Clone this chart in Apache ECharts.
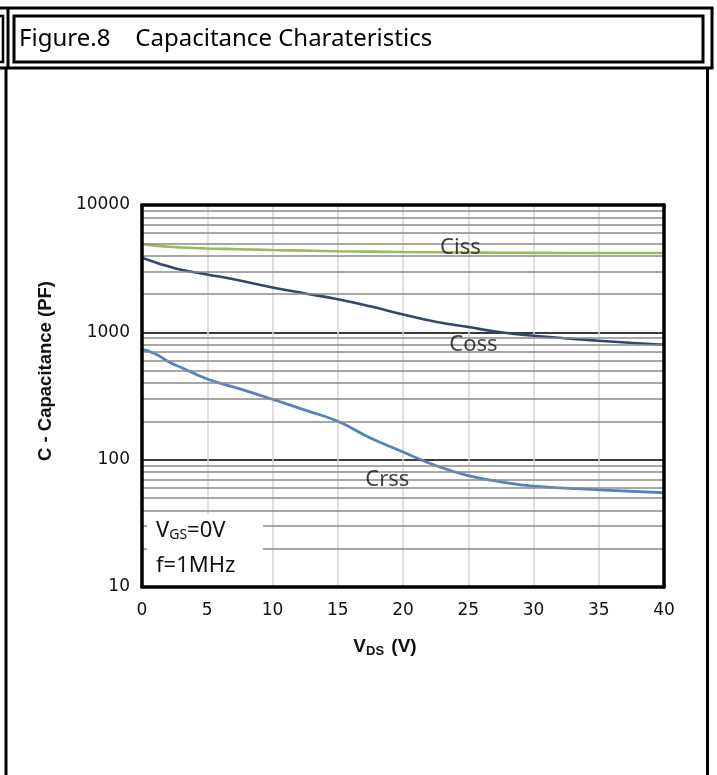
<!DOCTYPE html>
<html>
<head>
<meta charset="utf-8">
<script src="https://cdn.jsdelivr.net/npm/echarts@6/dist/echarts.min.js"></script>
<style>
  html, body { margin: 0; padding: 0; background: #fff; }
  #chart { width: 717px; height: 775px; }
</style>
</head>
<body>
<div id="chart"></div>
<script>
// Drain-source voltage sample points (V)
const vds  = [0, 1, 2, 3, 5, 7.5, 10, 12.5, 15, 17.5, 20, 22.5, 25, 27.5, 30, 35, 40];
// Capacitances (pF) at each VDS point
const ciss = [4950, 4800, 4700, 4640, 4560, 4490, 4430, 4380, 4330, 4300, 4270, 4250, 4230, 4220, 4210, 4200, 4200];
const coss = [3850, 3550, 3300, 3100, 2850, 2550, 2250, 2020, 1820, 1600, 1380, 1210, 1100, 1000, 940, 860, 800];
const crss = [735, 680, 590, 530, 430, 360, 298, 245, 200, 148, 115, 90, 75, 67, 62, 58, 55];

// Axis ranges and ticks
const xTicks = [0, 5, 10, 15, 20, 25, 30, 35, 40];
const yTicks = [10, 100, 1000, 10000];
// Intermediate log grid lines (2..9 of each decade)
const minorGrid = [20, 30, 40, 50, 60, 70, 80, 90,
                   200, 300, 400, 500, 600, 700, 800, 900,
                   2000, 3000, 4000, 5000, 6000, 7000, 8000, 9000];

// Curve names and where their captions sit (VDS, pF)
const curveNames = ['Ciss', 'Coss', 'Crss'];
const captionAt = [[24.4, 4650], [25.4, 805], [18.8, 70]];

const pair = (ys) => vds.map((x, i) => [x, ys[i]]);

const chart = echarts.init(document.getElementById('chart'));

const captionFont = '"Noto Sans", sans-serif';
const boldFont = '"Liberation Sans", Arial, sans-serif';
const tickFont = '"DejaVu Sans", Verdana, sans-serif';

// Plain black frame lines drawn as bare axes on each side of the plot
const frameAxis = (position) => ({
  type: 'value', position: position, min: 0, max: 1, z: 10,
  axisLine: { show: true, onZero: false, lineStyle: { color: '#000', width: 3.5 } },
  axisTick: { show: false }, axisLabel: { show: false }, splitLine: { show: false }
});

chart.setOption({
  backgroundColor: '#ffffff',
  animation: false,
  grid: { left: 142, top: 205, width: 522, height: 382, show: false },
  xAxis: [
    {
      type: 'value',
      min: xTicks[0], max: xTicks[xTicks.length - 1], interval: 5,
      axisLine: { show: false }, axisTick: { show: false },
      axisLabel: { fontSize: 17, color: '#111', fontFamily: tickFont, margin: 15 },
      splitLine: { show: true, lineStyle: { color: '#d6d6d6', width: 1.5 } },
      name: '{b|V}{s|DS}{b| (V)}',
      nameLocation: 'middle', nameGap: 48,
      nameTextStyle: {
        padding: [0, 36, 0, 0],
        rich: {
          b: { fontSize: 19, fontWeight: 'bold', fontFamily: boldFont, color: '#111', lineHeight: 24 },
          s: { fontSize: 13, fontWeight: 'bold', fontFamily: boldFont, color: '#111', lineHeight: 24, padding: [8, 2, 0, 0] }
        }
      }
    },
    frameAxis('top'),
    frameAxis('bottom')
  ],
  yAxis: [
    {
      type: 'log', logBase: 10,
      min: yTicks[0], max: yTicks[yTicks.length - 1],
      axisLine: { show: false }, axisTick: { show: false },
      axisLabel: { fontSize: 17, color: '#111', fontFamily: tickFont, margin: 12, formatter: (v) => String(v) },
      splitLine: { show: true, lineStyle: { color: '#3c3c3c', width: 2 } },
      name: 'C - Capacitance (PF)',
      nameLocation: 'middle', nameGap: 87,
      nameTextStyle: { fontSize: 18.5, fontWeight: 'bold', fontFamily: boldFont, color: '#111', padding: [0, 0, 0, 50] }
    },
    frameAxis('right'),
    frameAxis('left')
  ],
  series: [
    {
      // minor log grid
      type: 'line', data: [], z: 1, silent: true,
      markLine: {
        silent: true, symbol: ['none', 'none'], label: { show: false },
        lineStyle: { color: '#8a8a8a', width: 1.7, type: 'solid' },
        data: minorGrid.map(v => ({ yAxis: v }))
      }
    },
    {
      name: curveNames[0], type: 'line', data: pair(ciss), smooth: true, showSymbol: false, z: 4,
      lineStyle: { color: '#9bbb59', width: 2.6 }
    },
    {
      name: curveNames[1], type: 'line', data: pair(coss), smooth: true, showSymbol: false, z: 4,
      lineStyle: { color: '#34466a', width: 2.6 }
    },
    {
      name: curveNames[2], type: 'line', data: pair(crss), smooth: true, showSymbol: false, z: 4,
      lineStyle: { color: '#5283c0', width: 2.8 }
    },
    {
      // curve captions
      type: 'scatter', symbolSize: 0, z: 6, silent: true,
      data: captionAt.map((p, i) => [p[0], p[1], curveNames[i]]),
      label: {
        show: true, position: 'inside', formatter: (p) => p.value[2],
        fontSize: 22, color: '#111', fontFamily: captionFont
      }
    }
  ],
  graphic: [
    // neighbouring cell edge on the far left
    { type: 'rect', shape: { x: -10, y: 16, width: 13, height: 46 }, style: { fill: 'none', stroke: '#000', lineWidth: 2.5 } },
    // header frame
    { type: 'line', shape: { x1: 0, y1: 8, x2: 713.5, y2: 8 }, style: { stroke: '#000', lineWidth: 3 } },
    { type: 'line', shape: { x1: 8, y1: 8, x2: 8, y2: 68 }, style: { stroke: '#000', lineWidth: 3 } },
    { type: 'line', shape: { x1: 712, y1: 8, x2: 712, y2: 68 }, style: { stroke: '#000', lineWidth: 3 } },
    { type: 'line', shape: { x1: 0, y1: 68, x2: 713.5, y2: 68 }, style: { stroke: '#000', lineWidth: 3 } },
    { type: 'rect', shape: { x: 14, y: 16, width: 689, height: 46 }, style: { fill: 'none', stroke: '#000', lineWidth: 3 } },
    { type: 'text', x: 19, y: 39, style: { text: 'Figure.8    Capacitance Charateristics', font: '24px "Noto Sans", sans-serif', fill: '#000', verticalAlign: 'middle' } },
    // body frame
    { type: 'line', shape: { x1: 6, y1: 68, x2: 6, y2: 776 }, style: { stroke: '#000', lineWidth: 3 } },
    { type: 'line', shape: { x1: 707.5, y1: 68, x2: 707.5, y2: 776 }, style: { stroke: '#000', lineWidth: 3 } },
    // test conditions box
    { type: 'rect', z: 20, shape: { x: 147, y: 514, width: 116, height: 71 }, style: { fill: '#fff' } },
    {
      type: 'text', z: 21, x: 156, y: 531,
      style: {
        text: '{m|V}{s|GS}{m|=0V}',
        verticalAlign: 'middle',
        rich: {
          m: { font: '22px "Noto Sans", sans-serif', fill: '#111', lineHeight: 26 },
          s: { font: '14px "Noto Sans", sans-serif', fill: '#111', lineHeight: 26, padding: [9, 0, 0, 0] }
        }
      }
    },
    { type: 'text', z: 21, x: 156, y: 566, style: { text: 'f=1MHz', font: '22px "Noto Sans", sans-serif', fill: '#111', verticalAlign: 'middle' } }
  ]
});
</script>
</body>
</html>
